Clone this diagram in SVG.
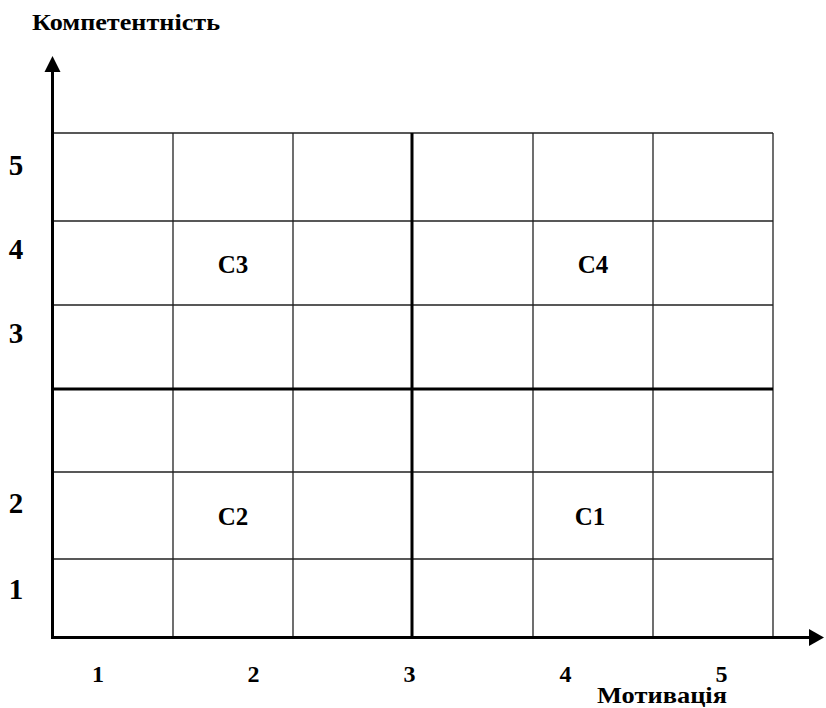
<svg xmlns="http://www.w3.org/2000/svg" width="826" height="708" viewBox="0 0 826 708">
<style>
text{font-family:'Liberation Serif','Times New Roman','DejaVu Serif',serif;font-weight:bold;fill:#000}
.thin{stroke:#222;stroke-width:1.3;fill:none}
.thick{stroke:#000;stroke-width:3;fill:none}
.ax{stroke:#000;stroke-width:3;fill:none}
</style>
<rect width="826" height="708" fill="#fff"/>
<g id="grid">
<path class="thin" d="M52 133H773M52 221H773M52 305H773M52 472H773M52 559H773"/>
<path class="thin" d="M173 133V637M293 133V637M533 133V637M653 133V637M773 133V637"/>
<path class="thick" d="M52 389H773M412 133V637"/>
</g>
<g id="axes">
<path class="ax" d="M52.5 637V70M51 637.5H810"/>
<polygon points="52.5,56 44.5,72 60.5,72" fill="#000"/>
<polygon points="824,637.5 809,629 809,646" fill="#000"/>
</g>
<g id="axis-titles">
<text x="32" y="30" font-size="24" textLength="188" lengthAdjust="spacingAndGlyphs">Компетентність</text>
<text x="597" y="703" font-size="24" textLength="130" lengthAdjust="spacingAndGlyphs">Мотивація</text>
</g>
<g id="y-labels" font-size="29">
<text x="16" y="175" text-anchor="middle">5</text>
<text x="16" y="259" text-anchor="middle">4</text>
<text x="16" y="343" text-anchor="middle">3</text>
<text x="16" y="513" text-anchor="middle">2</text>
<text x="16" y="599" text-anchor="middle">1</text>
</g>
<g id="x-labels" font-size="24">
<text x="98" y="682" text-anchor="middle">1</text>
<text x="253.5" y="682" text-anchor="middle">2</text>
<text x="409.5" y="682" text-anchor="middle">3</text>
<text x="565.5" y="682" text-anchor="middle">4</text>
<text x="721.5" y="682" text-anchor="middle">5</text>
</g>
<g id="node-C3"><text x="233" y="273" font-size="25" text-anchor="middle">C3</text></g>
<g id="node-C4"><text x="593" y="273" font-size="25" text-anchor="middle">C4</text></g>
<g id="node-C2"><text x="233" y="525" font-size="25" text-anchor="middle">C2</text></g>
<g id="node-C1"><text x="590" y="525" font-size="25" text-anchor="middle">C1</text></g>
</svg>
